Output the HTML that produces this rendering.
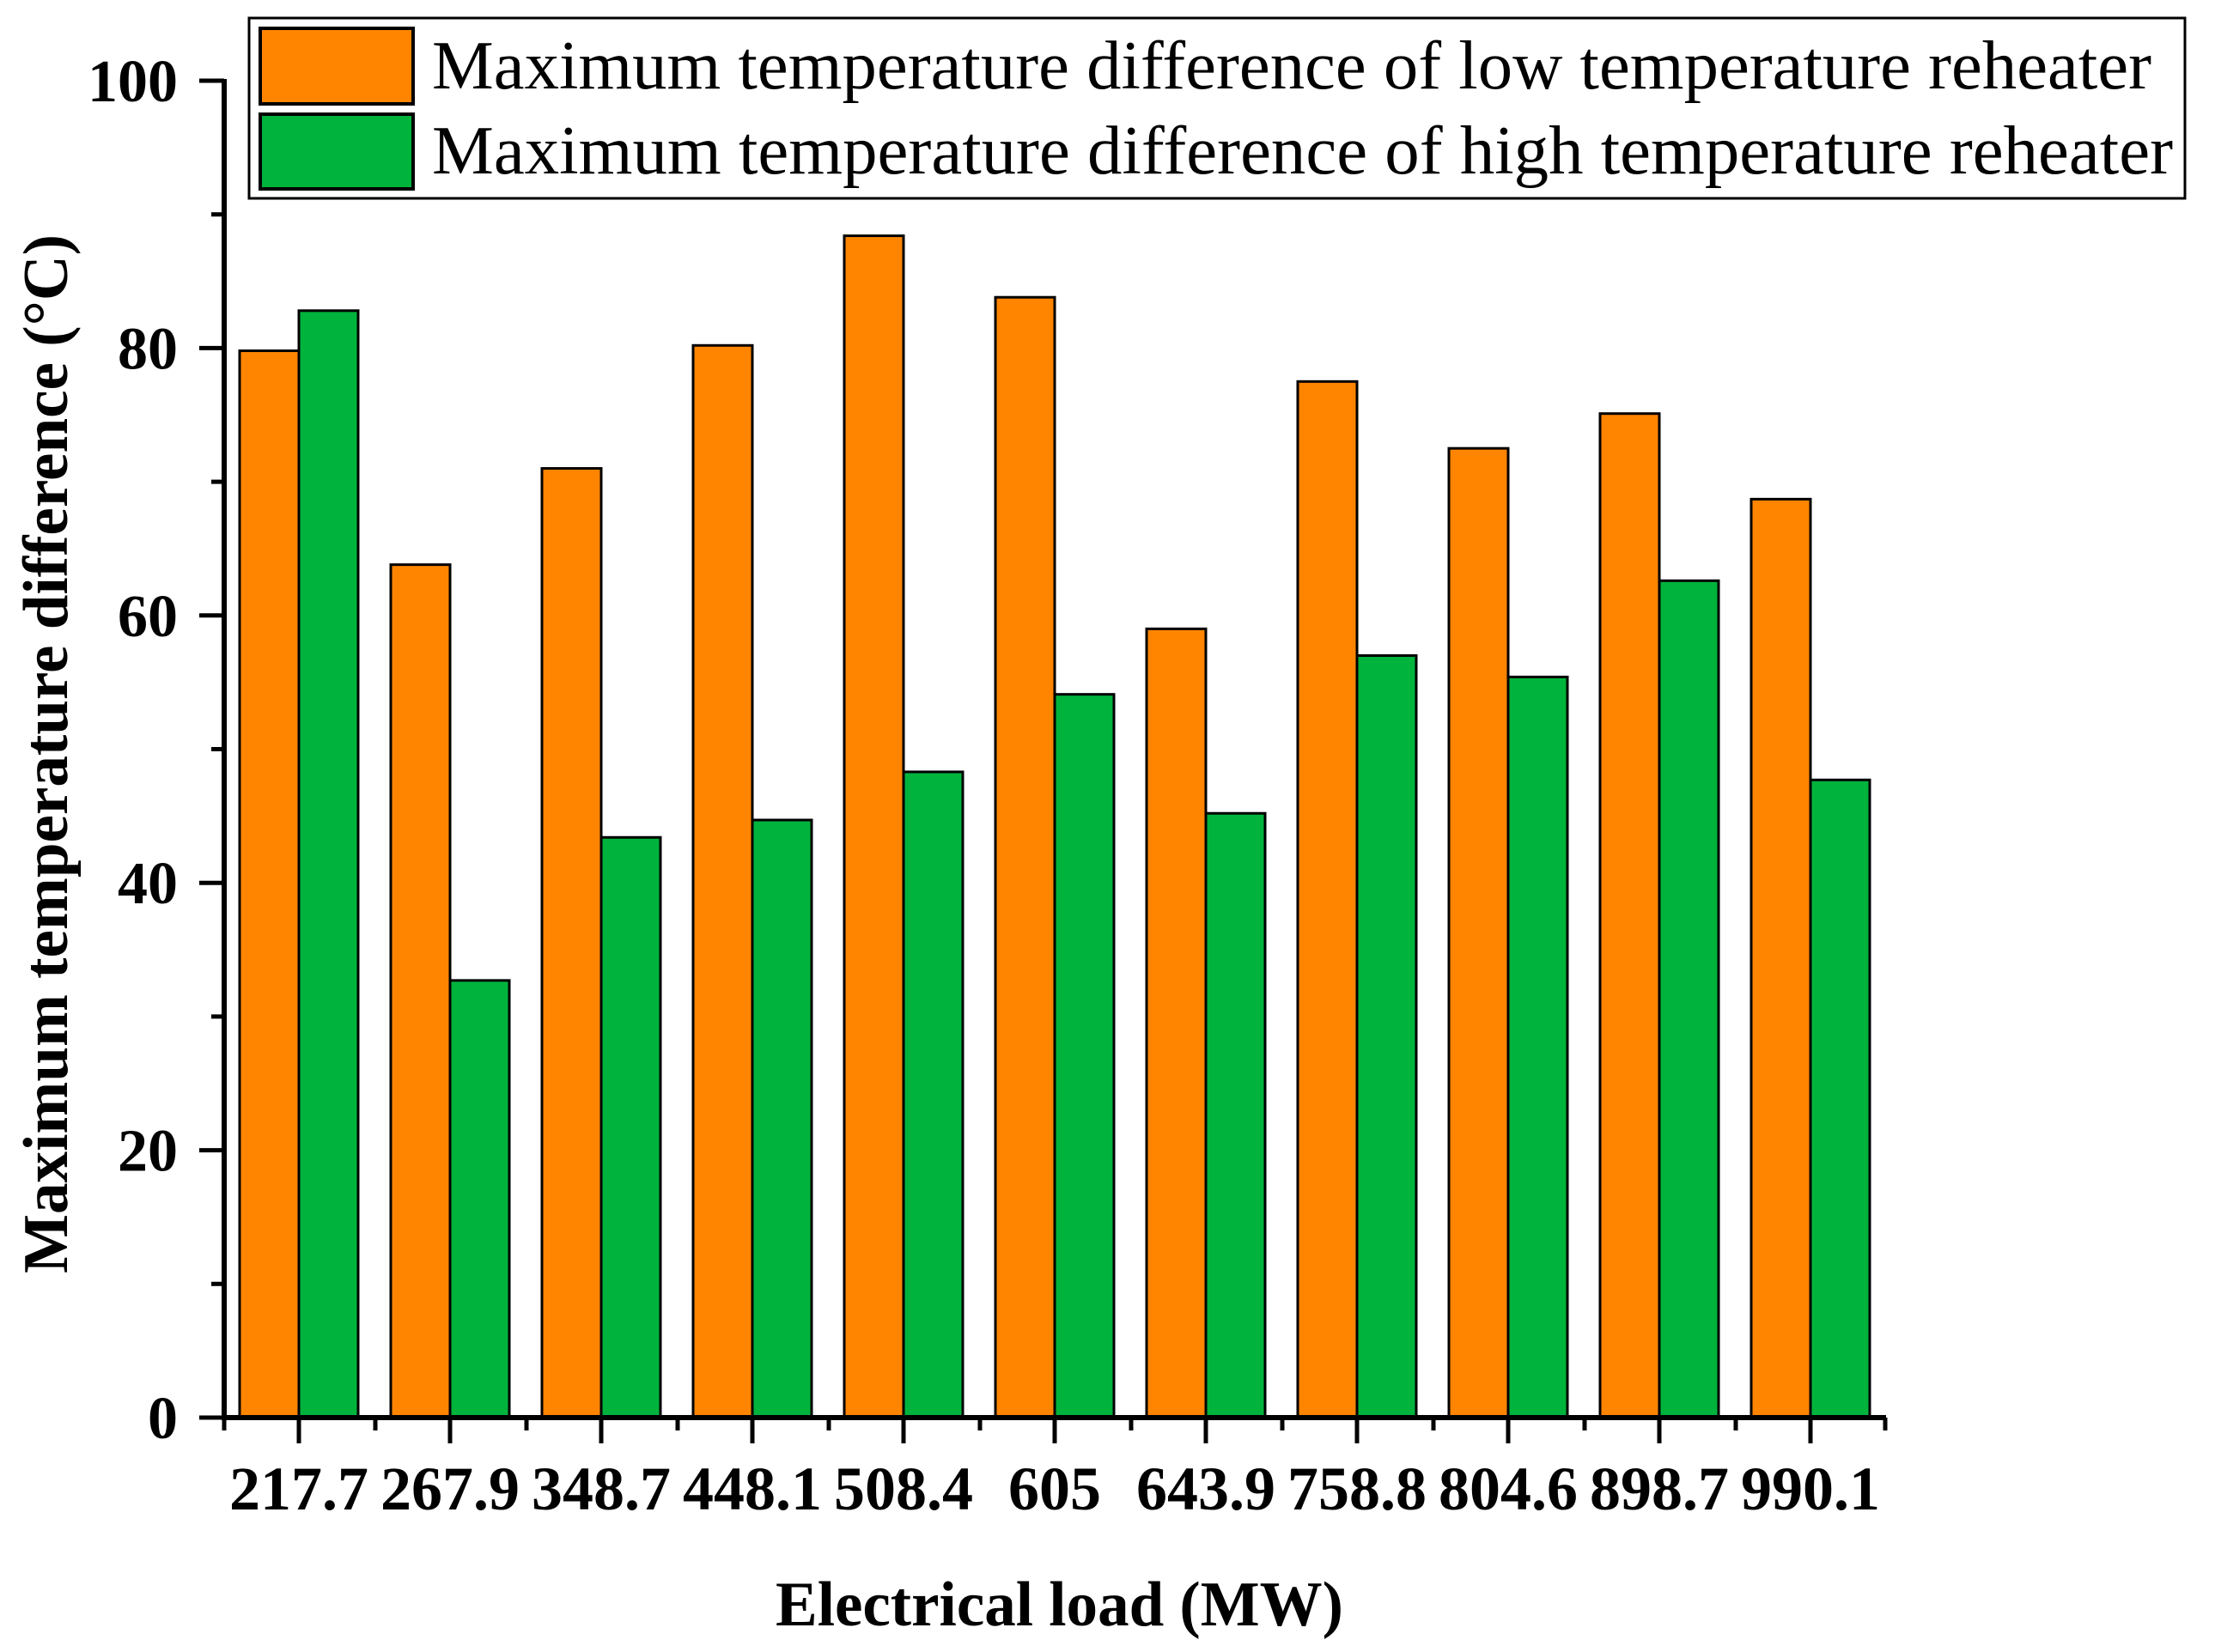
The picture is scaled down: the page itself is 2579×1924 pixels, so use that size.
<!DOCTYPE html>
<html><head><meta charset="utf-8"><style>
html,body{margin:0;padding:0;background:#fff;}
svg{display:block;}
text{font-family:"Liberation Serif","Times New Roman",serif;fill:#000;}
</style></head><body>
<svg id="chart" width="2579" height="1924" viewBox="0 0 2579 1924" xmlns="http://www.w3.org/2000/svg">
<g id="bars"></g>
<g id="axes"></g>
<g id="legend">
<rect x="290" y="21" width="2254" height="210" fill="#fff" stroke="#000" stroke-width="3"/>
<rect x="303" y="33" width="178" height="88" fill="#FF8500" stroke="#000" stroke-width="4"/>
<rect x="303" y="133" width="178" height="87" fill="#00B33C" stroke="#000" stroke-width="4"/>
<text x="503" y="103" font-size="80" textLength="2002" lengthAdjust="spacingAndGlyphs">Maximum temperature difference of low temperature reheater</text>
<text x="503" y="202" font-size="80" textLength="2027" lengthAdjust="spacingAndGlyphs">Maximum temperature difference of high temperature reheater</text>
</g>
<text x="903" y="1893" font-size="74" font-weight="bold" textLength="661" lengthAdjust="spacingAndGlyphs">Electrical load (MW)</text>
<text transform="translate(78,1483) rotate(-90)" font-size="74" font-weight="bold" textLength="1210" lengthAdjust="spacingAndGlyphs">Maximum temperature difference (°C)</text>
</svg>
<script>
const categories = ["217.7","267.9","348.7","448.1","508.4","605","643.9","758.8","804.6","898.7","990.1"];
const lowValues = [79.8,63.8,71.0,80.2,88.4,83.8,59.0,77.5,72.5,75.1,68.7];
const highValues = [82.8,32.7,43.4,44.7,48.3,54.1,45.2,57.0,55.4,62.6,47.7];
const yTicks = [0,20,40,60,80,100];

const NS="http://www.w3.org/2000/svg";
const y0=1651, y100=94, xStart=261, catW=176, firstCenter=348, barW=69;
const yScale=v=>y0-(y0-y100)*v/100;
const xCenter=i=>firstCenter+catW*i;
function mk(tag,attrs,parent){const e=document.createElementNS(NS,tag);for(const k in attrs)e.setAttribute(k,attrs[k]);parent.appendChild(e);return e;}
const bars=document.getElementById('bars'), axes=document.getElementById('axes');

categories.forEach((c,i)=>{
  const cx=xCenter(i);
  const r1=mk('rect',{x:cx-barW,y:yScale(lowValues[i]),width:barW,height:y0-yScale(lowValues[i]),fill:'#FF8500',stroke:'#000','stroke-width':3},bars);
  
  
  const r2=mk('rect',{x:cx,y:yScale(highValues[i]),width:barW,height:y0-yScale(highValues[i]),fill:'#00B33C',stroke:'#000','stroke-width':3},bars);
  
  
  const t=mk('line',{x1:cx,x2:cx,y1:y0,y2:y0+30,stroke:'#000','stroke-width':5},axes);
  
  
  const lb=mk('text',{x:cx,y:1758,'font-size':72,'font-weight':'bold','text-anchor':'middle'},axes);
  lb.textContent=c;
  
  
});
for(let i=0;i<=categories.length;i++){
  const x=xStart+catW*i - (i===categories.length?2:0);
  const m=mk('line',{x1:x,x2:x,y1:y0,y2:y0+15,stroke:'#000','stroke-width':5},axes);
  
  
}
yTicks.forEach(v=>{
  const y=yScale(v);
  const t=mk('line',{x1:232,x2:xStart,y1:y,y2:y,stroke:'#000','stroke-width':5},axes);
  
  
  const lb=mk('text',{x:207,y:y+24,'font-size':70,'font-weight':'bold','text-anchor':'end'},axes);
  lb.textContent=v;
  
  
  if(v<100){
    const m=mk('line',{x1:246,x2:xStart,y1:yScale(v+10),y2:yScale(v+10),stroke:'#000','stroke-width':5},axes);
    
    
  }
});
const xa=mk('line',{x1:xStart-2,x2:2196,y1:y0,y2:y0,stroke:'#000','stroke-width':6},axes);


const ya=mk('line',{x1:xStart,x2:xStart,y1:y100-2,y2:y0+3,stroke:'#000','stroke-width':6},axes);


</script>
</body></html>
